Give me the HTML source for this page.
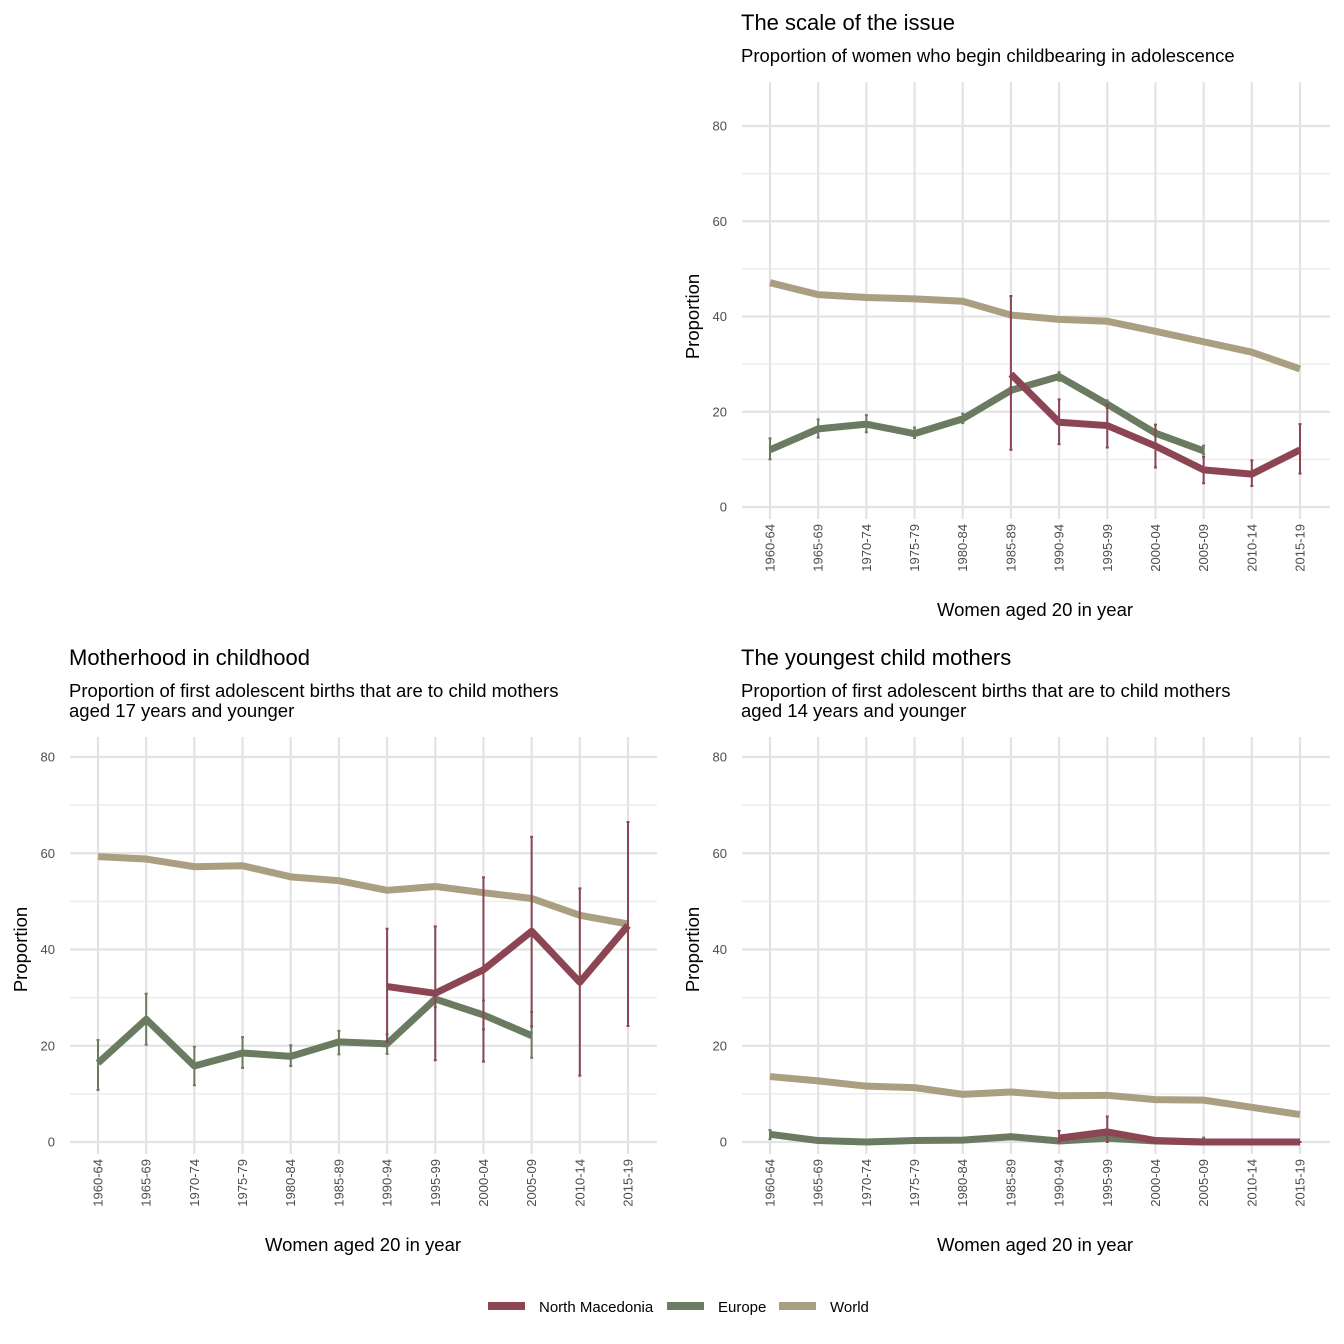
<!DOCTYPE html>
<html><head><meta charset="utf-8"><style>
html,body{margin:0;padding:0;background:#fff;}
svg{display:block;font-family:"Liberation Sans",Arial,sans-serif;}
</style></head><body>
<svg id="chart" width="1344" height="1344" viewBox="0 0 1344 1344" xmlns="http://www.w3.org/2000/svg"></svg>
<script>
const categories=["1960-64","1965-69","1970-74","1975-79","1980-84","1985-89","1990-94","1995-99","2000-04","2005-09","2010-14","2015-19"];
const yTicks=[0,20,40,60,80];
// Panel A: scale of the issue
const aWorld=[47.1,44.6,44.0,43.7,43.2,40.3,39.4,39.0,36.9,34.7,32.5,29.0];
const aEurope=[12.0,16.4,17.4,15.4,18.5,24.5,27.4,21.6,15.5,11.8,null,null];
const aEuropeLo=[10.0,14.6,15.7,14.5,17.6,23.8,26.5,20.8,14.8,11.0,null,null];
const aEuropeHi=[14.4,18.4,19.3,16.7,19.6,25.2,28.3,22.4,16.2,12.9,null,null];
const aNM=[null,null,null,null,null,27.9,17.8,17.1,12.8,7.8,6.9,12.0];
const aNMLo=[null,null,null,null,null,12.0,13.2,12.5,8.3,5.0,4.4,7.0];
const aNMHi=[null,null,null,null,null,44.3,22.6,21.5,17.3,10.5,9.8,17.4];
// Panel B: motherhood in childhood
const bWorld=[59.3,58.8,57.2,57.4,55.1,54.3,52.3,53.1,51.8,50.6,47.1,45.3];
const bEurope=[16.4,25.5,15.8,18.5,17.8,20.8,20.4,29.7,26.4,22.1,null,null];
const bEuropeLo=[10.8,20.2,11.8,15.4,15.8,18.2,18.3,28.0,23.4,17.5,null,null];
const bEuropeHi=[21.2,30.8,19.8,21.8,20.1,23.1,22.4,31.0,29.4,27.0,null,null];
const bNM=[null,null,null,null,null,null,32.3,30.9,35.8,43.8,33.2,45.0];
const bNMLo=[null,null,null,null,null,null,20.8,17.0,16.7,24.0,13.8,24.1];
const bNMHi=[null,null,null,null,null,null,44.3,44.8,55.0,63.4,52.7,66.5];
// Panel C: youngest child mothers
const cWorld=[13.6,12.7,11.6,11.3,9.9,10.4,9.6,9.7,8.8,8.7,7.2,5.7];
const cEurope=[1.6,0.3,0.0,0.3,0.4,1.1,0.2,0.8,0.2,0.0,null,null];
const cEuropeLo=[0.6,0.0,0.0,0.0,0.0,0.6,0.0,0.3,0.0,0.0,null,null];
const cEuropeHi=[2.5,0.8,0.3,0.8,0.8,1.6,0.5,1.3,0.5,0.9,null,null];
const cNM=[null,null,null,null,null,null,0.8,2.1,0.3,0.0,0.0,0.0];
const cNMLo=[null,null,null,null,null,null,0.0,0.0,0.0,0.0,0.0,0.0];
const cNMHi=[null,null,null,null,null,null,2.3,5.3,0.5,0.0,0.0,0.0];

const C_NM="#8b4553",C_EU="#6b7b62",C_W="#ab9f82";
const svg=document.getElementById('chart');
const NS="http://www.w3.org/2000/svg";
function mk(tag,attrs,parent){const e=document.createElementNS(NS,tag);for(const k in attrs)e.setAttribute(k,attrs[k]);(parent||svg).appendChild(e);return e;}

function panel(p){
  const g=mk('g',{});
  
  
  const x=i=>p.x0+i*(p.x1-p.x0)/(categories.length-1);
  const y=v=>p.y0-v*(p.y0-p.y80)/80;
  for(let v=10;v<=90;v+=20){const yy=y(v);if(yy<p.top)continue;
    const l=mk('line',{x1:p.left,x2:p.right,y1:yy,y2:yy,stroke:"#ececec","stroke-width":1.5},g);
    }
  yTicks.forEach(v=>{const l=mk('line',{x1:p.left,x2:p.right,y1:y(v),y2:y(v),stroke:"#e3e3e3","stroke-width":2.2},g);
    
    const t=mk('text',{x:p.left-15,y:y(v)+4.5,"text-anchor":"end","font-size":13,fill:"#4d4d4d"},g);t.textContent=v;
    });
  categories.forEach((c,i)=>{const l=mk('line',{x1:x(i),x2:x(i),y1:p.top,y2:p.y0+12,stroke:"#e3e3e3","stroke-width":2.2},g);
    
    const t=mk('text',{x:0,y:0,"text-anchor":"end","font-size":13,fill:"#4d4d4d",transform:`translate(${x(i)+4.5},${p.y0+17}) rotate(-90)`},g);t.textContent=c;
    });
  const tt=mk('text',{x:p.left-1,y:p.titleY,"font-size":22,fill:"#000"},g);tt.textContent=p.title;
  
  p.sub.forEach((s,k)=>{const st=mk('text',{x:p.left-1,y:p.titleY+32+k*20,"font-size":18.5,fill:"#000"},g);st.textContent=s;
    });
  const yt=mk('text',{x:0,y:0,"text-anchor":"middle","font-size":18.5,fill:"#000",transform:`translate(${p.left-43},${(p.y0+p.y80)/2}) rotate(-90)`},g);yt.textContent="Proportion";
  
  const xt=mk('text',{x:(p.x0+p.x1)/2,y:p.y0+109,"text-anchor":"middle","font-size":18.5,fill:"#000"},g);xt.textContent="Women aged 20 in year";
  
  function series(vals,lo,hi,col,nm){
    if(lo){vals.forEach((v,i)=>{if(v==null||lo[i]==null)return;
      const e=mk('path',{d:`M${x(i)-1.5},${y(hi[i])}H${x(i)+1.5}M${x(i)},${y(hi[i])}V${y(lo[i])}M${x(i)-1.5},${y(lo[i])}H${x(i)+1.5}`,stroke:col,"stroke-width":2,fill:"none"},g);
      });}
    let d="";vals.forEach((v,i)=>{if(v==null)return;d+=(d?"L":"M")+x(i)+","+y(v);});
    const l=mk('path',{d:d,stroke:col,"stroke-width":7,fill:"none","stroke-linejoin":"round"},g);
    
  }
  series(p.w,null,null,C_W,'world');
  series(p.e,p.el,p.eh,C_EU,'europe');
  series(p.n,p.nl,p.nh,C_NM,'north-macedonia');
}
panel({name:'panel-scale-of-issue',x0:770,x1:1300,left:742,right:1330,top:82,y0:507,y80:126,titleY:30,title:"The scale of the issue",sub:["Proportion of women who begin childbearing in adolescence"],w:aWorld,e:aEurope,el:aEuropeLo,eh:aEuropeHi,n:aNM,nl:aNMLo,nh:aNMHi});
panel({name:'panel-motherhood-in-childhood',x0:98,x1:628,left:70,right:657,top:737,y0:1142,y80:757,titleY:665,title:"Motherhood in childhood",sub:["Proportion of first adolescent births that are to child mothers","aged 17 years and younger"],w:bWorld,e:bEurope,el:bEuropeLo,eh:bEuropeHi,n:bNM,nl:bNMLo,nh:bNMHi});
panel({name:'panel-youngest-child-mothers',x0:770,x1:1300,left:742,right:1330,top:737,y0:1142,y80:757,titleY:665,title:"The youngest child mothers",sub:["Proportion of first adolescent births that are to child mothers","aged 14 years and younger"],w:cWorld,e:cEurope,el:cEuropeLo,eh:cEuropeHi,n:cNM,nl:cNMLo,nh:cNMHi});
const legend=mk('g',{});


[[C_NM,"North Macedonia",488],[C_EU,"Europe",667],[C_W,"World",779]].forEach(([c,lab,lx])=>{
  const k=mk('line',{x1:lx,x2:lx+37,y1:1306,y2:1306,stroke:c,"stroke-width":8},legend);
  
  const t=mk('text',{x:lx+51,y:1312,"font-size":15,fill:"#000"},legend);t.textContent=lab;
  
});
</script>
</body></html>
